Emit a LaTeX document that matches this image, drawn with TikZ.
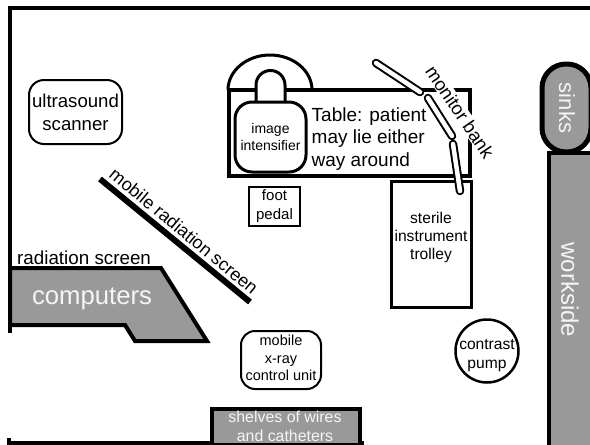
\documentclass[tikz,border=0pt]{standalone}
\usepackage{fontspec}
\setmainfont{Liberation Sans}
\definecolor{unitgrey}{gray}{0.6}
\newcommand{\fs}[2]{\fontsize{#1}{#2}\selectfont}
\tikzset{
  wall/.style={line width=4pt},
  fixture/.style={draw,line width=4pt,fill=unitgrey},
  unitbox/.style={draw,line width=2pt,fill=white,rounded corners=15pt,inner sep=0pt,align=center},
  plainbox/.style={draw,fill=white,inner sep=0pt,align=center},
  monitor/.style={line cap=round},
  lbl/.style={inner sep=0pt,align=center,text=black},
  whitelbl/.style={inner sep=0pt,align=center,text=white!90!unitgrey},
}
\begin{document}
\begin{tikzpicture}[x=1pt,y=-1pt]
    \useasboundingbox (0,0) rectangle (590,445);
    % Definitions:
    \coordinate (m1a) at (376,63);
    \coordinate (m1b) at (420,92);
    \coordinate (m2a) at (428,98);
    \coordinate (m2b) at (452,136);
    \coordinate (m3a) at (453,144);
    \coordinate (m3b) at (460,191);
    % Walls:
    \draw[wall] (10,333) -- (10,8) -- (590,8);
    \draw[wall] (9,438) -- (9,443) -- (364,443);
    \draw[wall] (547,443) -- (590,443);
    % Fixtures:
    \draw[fixture,line join=miter] (10,268) -- (161,268) -- (207,341) -- (135,341) -- (125,325) -- (10,325) -- cycle;
    \draw[fixture] (549,153) rectangle (594,449);
    \draw[fixture,line width=5pt,rounded corners=24pt] (542,64) rectangle (591,152);
    \draw[fixture,line width=3.5pt] (212,409) rectangle (360,445);
    % Table and image intensifier:
    \draw[line width=3pt] (228,90) arc[start angle=180,end angle=360,x radius=42,y radius=35];
    \node[plainbox,line width=4pt,minimum width=241pt,minimum height=86pt] (table) at (349.5,133) {};
    \draw[line width=3pt,fill=white] (256,104) -- (256,85) arc[start angle=180,end angle=360,radius=14.5] -- (285,104);
    \node[unitbox,line width=3pt,rounded corners=17pt,minimum width=71pt,minimum height=70pt,font=\fs{14}{17}] (intensifier) at (270.5,137)
      {image\\intensifier};
    \node[lbl,align=left,anchor=north west,font=\fs{19}{22.5}] (tabletext) at (311.5,107.5)
      {Table: patient\\may lie either\\way around};
    % Boxes:
    \node[unitbox,minimum width=93pt,minimum height=64pt,font=\fs{18.6}{23}] (scanner) at (75.5,112)
      {ultrasound\\scanner};
    \node[plainbox,line width=2pt,minimum width=51pt,minimum height=39pt,font=\fs{15}{19}] (pedal) at (274.5,206.5)
      {foot\\pedal};
    \node[plainbox,line width=3pt,minimum width=80pt,minimum height=126pt] (trolley) at (431,244) {};
    \node[lbl,font=\fs{15.6}{18}] (trolleytext) at ([yshift=7pt]trolley.center)
      {sterile\\instrument\\trolley};
    \node[unitbox,rounded corners=14pt,minimum width=80pt,minimum height=58pt] (controlunit) at (281,360) {};
    \node[lbl,font=\fs{14.5}{17.5}] (controltext) at ([yshift=2pt]controlunit.center)
      {mobile\\x-ray\\control unit};
    \node[draw,circle,fill=white,line width=2.5pt,minimum size=63pt,inner sep=0pt] (pump) at (487,351) {};
    \node[lbl,font=\fs{15.6}{19}] (pumptext) at ([yshift=-5pt]pump.center)
      {contrast\\pump};
    % Screens:
    \coordinate (screena) at (100,179);
    \coordinate (screenb) at (250,302);
    \draw[line width=6pt] (screena) -- (screenb);
    % Labels:
    \node[lbl,font=\fs{18.8}{22},anchor=base west] (fixedscreen) at (17,264) {radiation screen};
    \node[lbl,font=\fs{18}{22},rotate=-39.6] (mobilescreen) at (184,231) {mobile radiation screen};
    \node[whitelbl,font=\fs{25.7}{30},anchor=base] (computers) at (92,304) {computers};
    \node[whitelbl,font=\fs{22}{26},rotate=-90] (sinks) at (567,108) {sinks};
    \node[whitelbl,font=\fs{24}{28},rotate=-90] (workside) at (570,290) {workside};
    \node[whitelbl,font=\fs{15.9}{19},anchor=base] (shelves) at (285,422) {shelves of wires};
    \node[whitelbl,font=\fs{15.9}{19},anchor=base] (catheters) at (285,441) {and catheters};
    \node[lbl,fill=white,inner sep=1pt,font=\fs{18.5}{22},rotate=-56] (monitorbank) at (460,112) {monitor bank};
    % Monitors:
    \foreach \a/\b in {m1a/m1b,m2a/m2b,m3a/m3b}{
      \draw[monitor,line width=8.5pt] (\a) -- (\b);
      \draw[monitor,line width=4.5pt,white] (\a) -- (\b);
    }
\end{tikzpicture}
\end{document}
